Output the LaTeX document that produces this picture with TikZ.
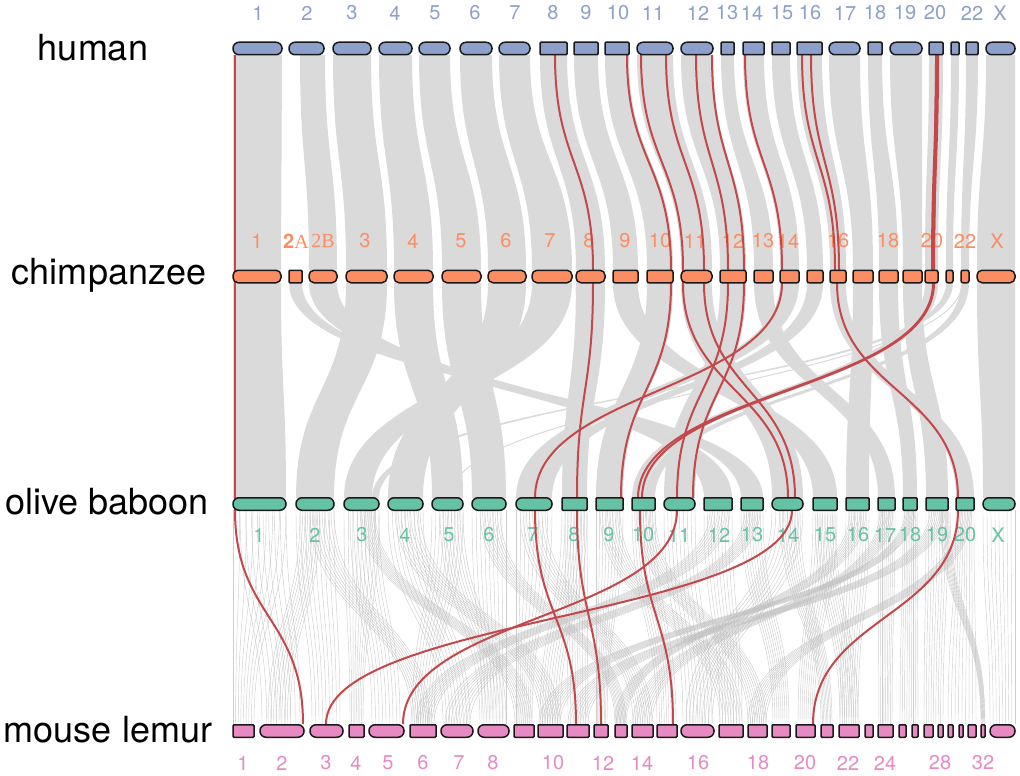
\documentclass[tikz,border=0pt]{standalone}
\usepackage{fontspec}
\setmainfont{TeX Gyre Heros}
\newfontfamily\serifA{Liberation Serif}
\definecolor{hum}{HTML}{8DA0CB}
\definecolor{chi}{HTML}{FC8D62}
\definecolor{bab}{HTML}{66C2A5}
\definecolor{lem}{HTML}{E78AC3}
\definecolor{ribg}{RGB}{218,218,218}
\definecolor{hairg}{RGB}{190,190,190}
\definecolor{redl}{RGB}{196,72,74}
\newcommand\rib[6]{\fill[ribg] (#1,#3) .. controls (#1,{(#3+#6)/2}) and (#4,{(#3+#6)/2}) .. (#4,#6) -- (#5,#6) .. controls (#5,{(#3+#6)/2}) and (#2,{(#3+#6)/2}) .. (#2,#3) -- cycle;}
\newcommand\rseg[4]{\draw[redline] (#1,#2) .. controls (#1,{(#2+#4)/2}) and (#3,{(#2+#4)/2}) .. (#3,#4);}
\begin{document}
\begin{tikzpicture}[x=1pt,y=-1pt,
  chrom/.style={draw=black!90,line width=1.5pt,inner sep=0pt,minimum height=12.5pt},
  lab/.style={font=\fontsize{20}{22}\selectfont,inner sep=0pt},
  sp/.style={font=\fontsize{36}{40}\selectfont,inner sep=0pt},
  redline/.style={draw=redl,line width=2pt},
  hair/.style={draw=hairg,line width=0.45pt,opacity=0.75}]
\useasboundingbox (0,0) rectangle (1020,776);

% ---------- human -> chimp ribbons ----------
\foreach \a/\b/\c/\d in {233/282/233/281, 300/325/309/337, 333/371/346/387, 379/412/394/433,
  419/450/442/481, 460/492/488/526, 499/530/532/572, 540/567/576/605, 574/598/613/638,
  605/629/647/673, 637/673/681/712, 681/713/720/746, 721/734/754/773, 743/764/780/799,
  772/790/807/823, 797/822/830/846, 829/860/853/873, 868/882/879/898, 890/922/903/922,
  929/943/925/938, 951/959/946/953, 966/978/961/969, 986/1015/977/1015}
  {\rib{\a}{\b}{55}{\c}{\d}{270}}

% ---------- chimp -> baboon ribbons ----------
\foreach \a/\b/\c/\d in {233/281/233/286, 289/302/741/763, 309/337/704/732, 346/387/296/334,
  394/433/432/463, 442/481/472/506, 488/526/388/423, 532/572/344/372, 576/605/562/587,
  613/638/813/837, 647/673/596/623, 681/712/772/803, 720/746/664/695, 754/773/878/895,
  780/799/516/536, 807/823/536/552, 830/846/956/974, 853/873/846/869, 879/898/903/917,
  903/922/926/948, 925/938/632/645, 946/953/372/379, 961/969/645/655, 977/1015/983/1015}
  {\rib{\a}{\b}{283}{\c}{\d}{498}}
\draw[ribg,line width=1pt] (450,498) .. controls (450,400) and (962,380) .. (962,283);

% ---------- baboon -> lemur hair lines ----------
\foreach \a/\b/\c/\d in {233/286/233/254, 240/286/262/300, 296/334/312/340, 300/320/268/290,
  310/334/412/430, 344/379/350/363, 350/379/372/400, 360/375/515/532, 388/423/443/470,
  395/420/540/560, 432/463/412/434, 440/463/480/506, 472/506/482/506, 480/500/615/626,
  516/552/516/532, 520/545/633/652, 562/587/540/560, 565/587/568/588, 596/623/596/607,
  600/620/720/742, 632/655/657/676, 636/655/748/766, 664/695/683/712, 704/732/720/742,
  710/730/416/434, 741/763/773/789, 745/760/445/470, 772/803/686/712, 780/800/821/832,
  813/837/798/814, 815/835/840/858, 846/869/840/858, 850/866/615/626, 878/895/879/892,
  880/893/633/652, 903/917/900/918, 905/915/540/560, 926/948/924/943, 930/945/568/588,
  956/974/948/976, 960/972/748/766, 983/1015/990/1015, 940/950/981/985}
  {\foreach \t in {0,0.125,...,1.01}{
     \pgfmathsetmacro\xs{\a+\t*(\b-\a)}\pgfmathsetmacro\xe{\c+\t*(\d-\c)}
     \draw[hair] (\xs,510) .. controls (\xs,617) and (\xe,617) .. (\xe,724);}}

% ---------- labels ----------
\foreach \n/\x in {1/258,2/307,3/352,4/395,5/435,6/475,7/515,8/553,9/586,10/618,11/653,12/698,13/727,14/752,15/782,16/810,17/845,18/875,19/905,20/935,22/972,X/1000}
  {\node[lab,text=hum] (hl\n) at (\x,13) {\n};}
\foreach \n/\x in {1/257,3/365,4/413,5/461,6/506,7/550,8/589,9/625,10/660,11/695,12/733,13/763,14/788,16/838,18/888,20/932,22/965,X/997}
  {\node[lab,text=chi] (cl\n) at (\x,241) {\n};}
\node[lab,text=chi] (cl2A) at (296,241) {\textbf{2}{\serifA A}};
\node[lab,text=chi] (cl2B) at (323,241) {\serifA 2B};
\foreach \n/\x in {1/259,2/315,3/362,4/405,5/449,6/489,7/533,8/574,9/609,10/643,11/679,12/719,13/752,14/788,15/825,16/858,17/885,18/910,19/937,20/965,X/998}
  {\node[lab,text=bab] (bl\n) at (\x,535) {\n};}
\foreach \n/\x in {1/243,2/282,3/326,4/356,5/388,6/423,7/459,8/493,10/553,12/603,14/642,16/698,18/758,20/805,22/848,24/885,28/940,32/983}
  {\node[lab,text=lem] (ll\n) at (\x,763) {\n};}

\node[sp] (sh) at (93,48) {human};
\node[sp] (sc) at (109,275) {chimpanzee};
\node[sp] (sb) at (107,502) {olive baboon};
\node[sp] (sl) at (108,730) {mouse lemur};

% ---------- red lines ----------
\foreach \a/\b in {235/235,555/593,627/671,641/683,666/704,696/728,712/744,745/782,802/835,811/839,936/932,938/934}
  {\rseg{\a}{55}{\b}{270}}
\draw[redl,line width=3pt] (937,55) -- (933,270);
\foreach \a/\b in {235/235,593/577,671/621,683/788,704/795,728/677,744/693,782/535,837/958,933/638,934/642}
  {\rseg{\a}{283}{\b}{498}}
\foreach \a/\b in {235/303,535/576,577/601,640/673,677/403,792/326,958/813}
  {\rseg{\a}{510}{\b}{724}}
\foreach \x in {235,593,671,683,704,728,744,782,837,933}{\draw[redline] (\x,270) -- (\x,283);}
\foreach \x in {235,577,640,677,792,958,535}{\draw[redline] (\x,498) -- (\x,510);}

% ---------- chromosomes ----------
\foreach \n/\a/\b/\r in {1/233/282/6,2/289/324/6,3/333/371/6,4/379/412/6,5/419/450/6,6/460/492/6,7/499/530/6,
  8/540/567/1,9/574/598/1,10/605/629/1,11/637/673/6,12/681/713/6,13/721/734/1,14/743/764/1,15/772/790/1,
  16/797/822/1,17/829/860/6,18/868/882/1,19/890/922/6,20/929/943/1,21/951/959/1,22/966/978/1,X/986/1015/6}
  {\node[chrom,fill=hum,rounded corners=\r pt,minimum width={(\b-\a)*1pt}] (h\n) at ({(\a+\b)/2},48.5) {};}
\foreach \n/\a/\b/\r in {1/233/281/5,2A/289/302/1,2B/309/337/5,3/346/387/5,4/394/433/5,5/442/481/5,6/488/526/5,
  7/532/572/5,8/576/605/5,9/613/638/2,10/647/673/2,11/681/712/5,12/720/746/2,13/754/773/2,14/780/799/2,
  15/807/823/2,16/830/846/2,17/853/873/2,18/879/898/2,19/903/922/2,20/925/938/2,21/946/953/2,22/961/969/2,X/977/1015/5}
  {\node[chrom,fill=chi,rounded corners=\r pt,minimum width={(\b-\a)*1pt}] (c\n) at ({(\a+\b)/2},276.5) {};}
\foreach \n/\a/\b/\r in {1/233/286/6,2/296/334/6,3/344/379/6,4/388/423/6,5/432/463/6,6/472/506/6,7/516/552/6,
  8/562/587/1,9/596/623/1,10/632/655/1,11/664/695/6,12/704/732/1,13/741/763/1,14/772/803/6,15/813/837/1,
  16/846/869/1,17/878/895/1,18/903/917/1,19/926/948/1,20/956/974/1,X/983/1015/6}
  {\node[chrom,fill=bab,rounded corners=\r pt,minimum width={(\b-\a)*1pt}] (b\n) at ({(\a+\b)/2},504) {};}
\foreach \n/\a/\b/\r in {1/233/254/1,2/260/304/6,3/310/343/6,4/349/364/1,5/369/404/6,6/410/436/1,7/441/473/6,
  8/478/509/6,9/514/534/1,10/538/563/1,11/567/589/1,12/594/608/1,13/615/627/1,14/632/653/1,15/657/677/1,
  16/681/714/6,17/719/743/1,18/748/767/1,19/772/790/1,20/796/815/1,21/821/833/1,22/839/859/1,23/865/873/1,
  24/878/893/1,25/899/906/1,26/912/918/1,27/924/933/1,28/938/943/1,29/948/953/1,30/959/963/1,31/968/976/1,
  32/981/985/1,X/990/1015/6}
  {\node[chrom,fill=lem,rounded corners=\r pt,minimum width={(\b-\a)*1pt}] (l\n) at ({(\a+\b)/2},731) {};}
\end{tikzpicture}
\end{document}
